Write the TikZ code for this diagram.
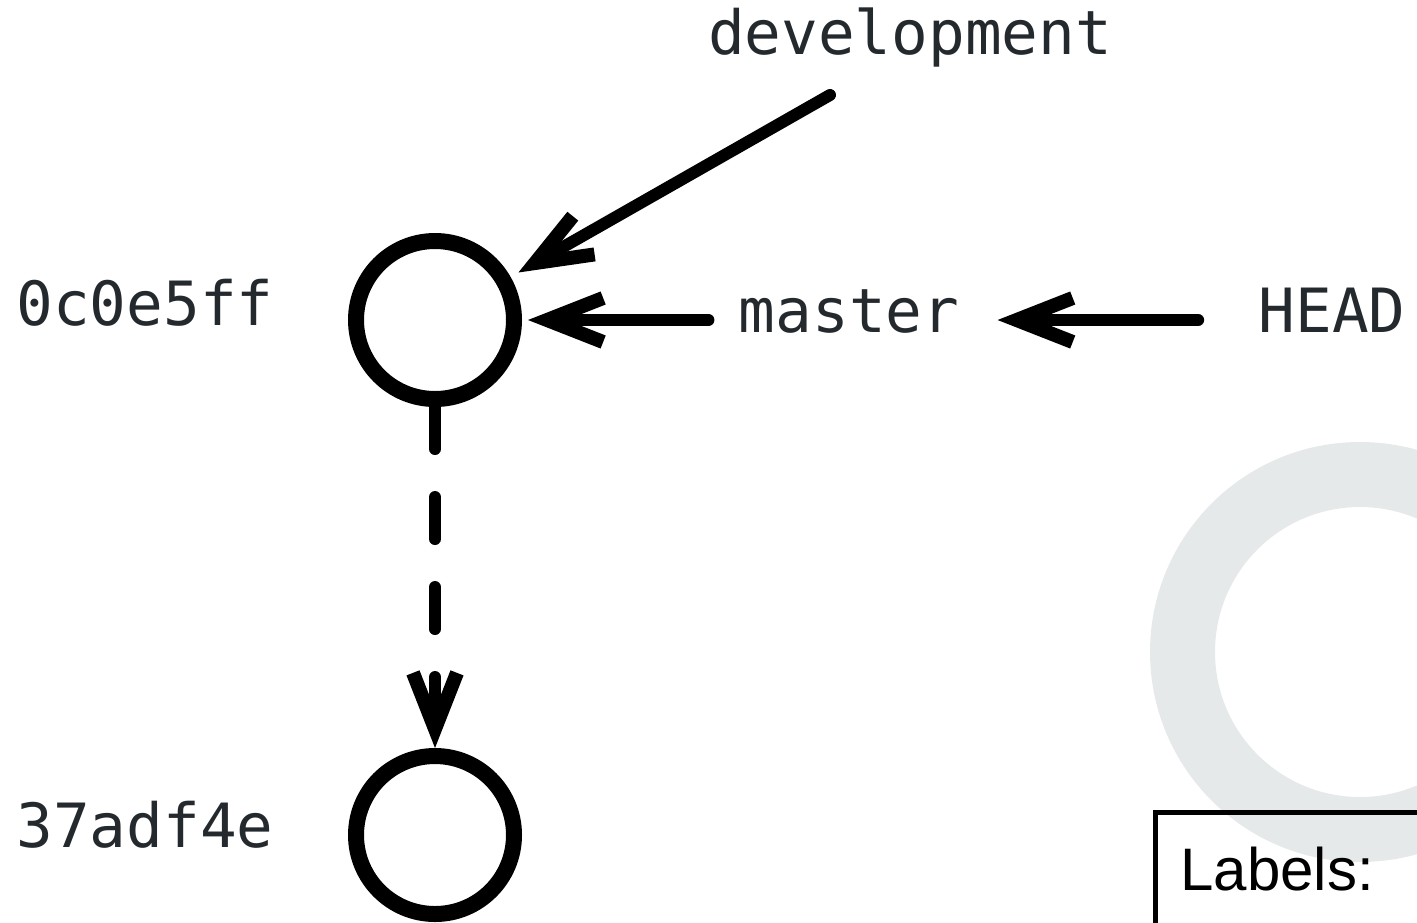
\documentclass[tikz,border=0pt]{standalone}
\usepackage{fontspec}
\setmainfont{Liberation Sans}
\setmonofont{DejaVu Sans Mono}
\usetikzlibrary{arrows.meta}
\definecolor{refgray}{HTML}{24292E}
\definecolor{ringgray}{HTML}{E6E9E9}

\begin{document}
\begin{tikzpicture}[x=0.5pt, y=-0.5pt,
    commit/.style={circle, draw, line width=8pt, minimum size=79pt, inner sep=0pt},
    refname/.style={font=\fontsize{30.5}{36}\selectfont\ttfamily, text=refgray, inner sep=0pt, anchor=base},
    pointer/.style={line width=6pt, line cap=round, shorten >=3pt,
      -{Straight Barb[sharp, length=28pt, width=22pt, line width=7pt]}}]
  \useasboundingbox (0,0) rectangle (1417,922);
  % faint ring and legend box, partly off the page
  \draw[ringgray, line width=32.5pt] (1360,652) circle [radius=88.75pt];
  \draw[line width=2.5pt] (1460,812) -- (1155,812) -- (1155,960);
  \node[anchor=base west, inner sep=0pt, font=\fontsize{30}{36}\selectfont] (legend) at (1180,890) {Labels:};
  % commits
  \node[commit] (c0c0e5ff) at (435,320) {};
  \node[commit] (c37adf4e) at (435,835) {};
  \node[refname] (h0c0e5ff) at (145,325) {0c0e5ff};
  \node[refname] (h37adf4e) at (145,847) {37adf4e};
  % refs
  \node[refname] (development) at (910,54) {development};
  \node[refname] (master) at (849,332) {master};
  \node[refname] (head) at (1332,332) {HEAD};
  \coordinate (devtail) at (830,95);
  \draw[pointer, shorten >=4.5pt] (devtail) -- (c0c0e5ff);
  \draw[pointer] ([shift={(-30,-12)}]master.base west) -- (c0c0e5ff);
  \draw[pointer, shorten >=0pt] ([shift={(-60,-12)}]head.base west) -- ([shift={(38,-12)}]master.base east);
  \draw[pointer, shorten >=0pt, dash pattern=on 21pt off 24pt] (c0c0e5ff) -- (c37adf4e);
\end{tikzpicture}
\end{document}
